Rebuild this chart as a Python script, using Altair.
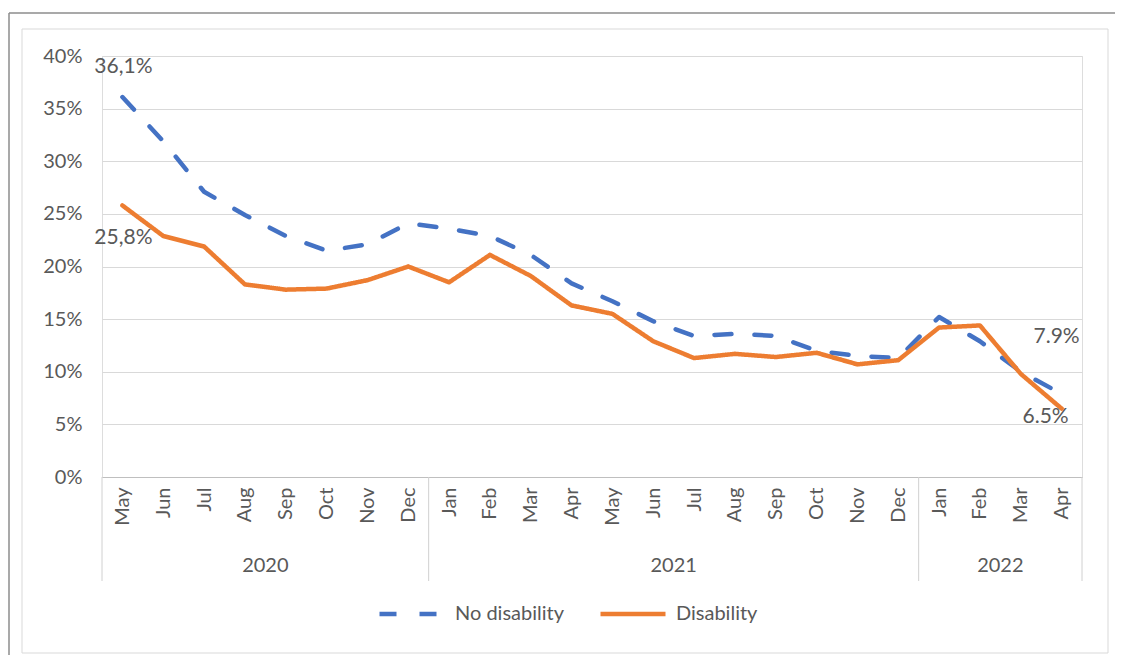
import altair as alt
import pandas as pd

# ---- data ----
months = ["May", "Jun", "Jul", "Aug", "Sep", "Oct", "Nov", "Dec",
          "Jan", "Feb", "Mar", "Apr", "May", "Jun", "Jul", "Aug", "Sep", "Oct", "Nov", "Dec",
          "Jan", "Feb", "Mar", "Apr"]
years = ["2020", "2021", "2022"]
months_per_year = [8, 12, 4]
series_names = ["No disability", "Disability"]
no_disability = [36.1, 31.9, 27.1, 24.9, 22.9, 21.5, 22.1, 24.1,
                 23.6, 22.9, 21.1, 18.4, 16.7, 14.8, 13.4, 13.6, 13.4, 12.0, 11.5, 11.3,
                 15.2, 12.9, 10.0, 7.9]
disability = [25.8, 22.9, 21.9, 18.3, 17.8, 17.9, 18.7, 20.0,
              18.5, 21.1, 19.1, 16.3, 15.5, 12.9, 11.3, 11.7, 11.4, 11.8, 10.7, 11.1,
              14.2, 14.4, 9.8, 6.5]
label_texts = ["36,1%", "25,8%", "7.9%", "6.5%"]
label_series = ["No disability", "Disability", "No disability", "Disability"]
label_index = [0, 0, 23, 23]
y_ticks = [0, 5, 10, 15, 20, 25, 30, 35, 40]

# ---- styling ----
BLUE = "#4472C4"
ORANGE = "#ED7D31"
TEXT = "#595959"
FONT = "Lato"
FS = 20
W, H = 980, 421

rows = []
for i, m in enumerate(months):
    rows.append({"i": i, "month": m, "series": series_names[0], "v": no_disability[i] / 100})
    rows.append({"i": i, "month": m, "series": series_names[1], "v": disability[i] / 100})
df = pd.DataFrame(rows)

# year groups
seps, centers = [-0.5], []
s = 0
for n in months_per_year:
    centers.append(s + (n - 1) / 2)
    s += n
    seps.append(s - 0.5)
year_df = pd.DataFrame({"year": years, "c": centers})
sep_df = pd.DataFrame({"x": seps})

xscale = alt.Scale(domain=[-0.5, len(months) - 0.5], nice=False, zero=False)
yscale = alt.Scale(domain=[0, 0.40], nice=False)

month_js = "[" + ",".join("'%s'" % m for m in months) + "]"

legend_cfg = dict(title=None, orient="none", legendX=275, legendY=523,
                  direction="horizontal", symbolType="stroke",
                  symbolSize=4225, symbolStrokeWidth=4.5,
                  labelFont=FONT, labelFontSize=FS, labelColor=TEXT,
                  labelOffset=8, columnPadding=26)

lines = alt.Chart(df).mark_line(strokeWidth=4.5, strokeCap="round", strokeJoin="round").encode(
    x=alt.X("i:Q", scale=xscale,
            axis=alt.Axis(values=list(range(len(months))), labelExpr=month_js + "[datum.value]",
                          labelAngle=-90, labelPadding=10, ticks=False, grid=False,
                          domain=True, domainColor="#bfbfbf", domainWidth=1,
                          labelFont=FONT, labelFontSize=FS, labelColor=TEXT, title=None)),
    y=alt.Y("v:Q", scale=yscale,
            axis=alt.Axis(values=[t / 100 for t in y_ticks], format=".0%", grid=True,
                          gridColor="#d9d9d9", gridWidth=1, domain=False, ticks=False,
                          labelPadding=20, labelFont=FONT, labelFontSize=FS,
                          labelColor=TEXT, title=None)),
    color=alt.Color("series:N", sort=series_names,
                    scale=alt.Scale(domain=series_names, range=[BLUE, ORANGE]),
                    legend=alt.Legend(**legend_cfg)),
    strokeDash=alt.StrokeDash("series:N", sort=series_names,
                              scale=alt.Scale(domain=series_names, range=[[17, 23], [1, 0]]),
                              legend=alt.Legend(**legend_cfg)),
    order="i:Q",
)

# data labels
lab_rows = []
for t, sname, idx in zip(label_texts, label_series, label_index):
    val = (no_disability if sname == series_names[0] else disability)[idx] / 100
    lab_rows.append({"t": t, "i": idx, "v": val})
lab_df = pd.DataFrame(lab_rows)
offsets = [(1, -30), (1, 33), (-5, -57), (-16, 8)]
label_layers = []
for k, (dx, dy) in enumerate(offsets):
    label_layers.append(
        alt.Chart(lab_df.iloc[[k]]).mark_text(font=FONT, fontSize=FS + 1, color=TEXT,
                                              dx=dx, dy=dy, align="center", baseline="middle")
        .encode(x=alt.X("i:Q", scale=xscale), y=alt.Y("v:Q", scale=yscale), text="t:N")
    )

# year separators and labels under the month axis
seps_layer = alt.Chart(sep_df).mark_rule(color="#d0d0d0", strokeWidth=1).encode(
    x=alt.X("x:Q", scale=xscale), y=alt.value(H), y2=alt.value(H + 104))
years_layer = alt.Chart(year_df).mark_text(font=FONT, fontSize=FS, color=TEXT,
                                           baseline="middle").encode(
    x=alt.X("c:Q", scale=xscale), y=alt.value(H + 89), text="year:N")

# frames
one = alt.Data(values=[{}])
inner = alt.Chart(one).mark_rect(fill=None, stroke="#d9d9d9", strokeWidth=1).encode(
    x=alt.value(-80), x2=alt.value(W + 26), y=alt.value(-27), y2=alt.value(H + 176))
outer_v = alt.Chart(one).mark_rule(color="#8c8c8c", strokeWidth=1.5).encode(
    x=alt.value(-93), y=alt.value(-43), y2=alt.value(H + 178))
outer_h = alt.Chart(one).mark_rule(color="#8c8c8c", strokeWidth=1.5).encode(
    x=alt.value(-93), x2=alt.value(W + 33), y=alt.value(-43))

chart = alt.layer(inner, outer_v, outer_h, seps_layer, years_layer, lines, *label_layers).properties(
    width=W, height=H, padding={"top": 4, "left": 0, "right": 0, "bottom": 0}
).configure_view(stroke=None).configure(background="white")

chart.save("out.html", embed_options={"renderer": "svg", "actions": False})
